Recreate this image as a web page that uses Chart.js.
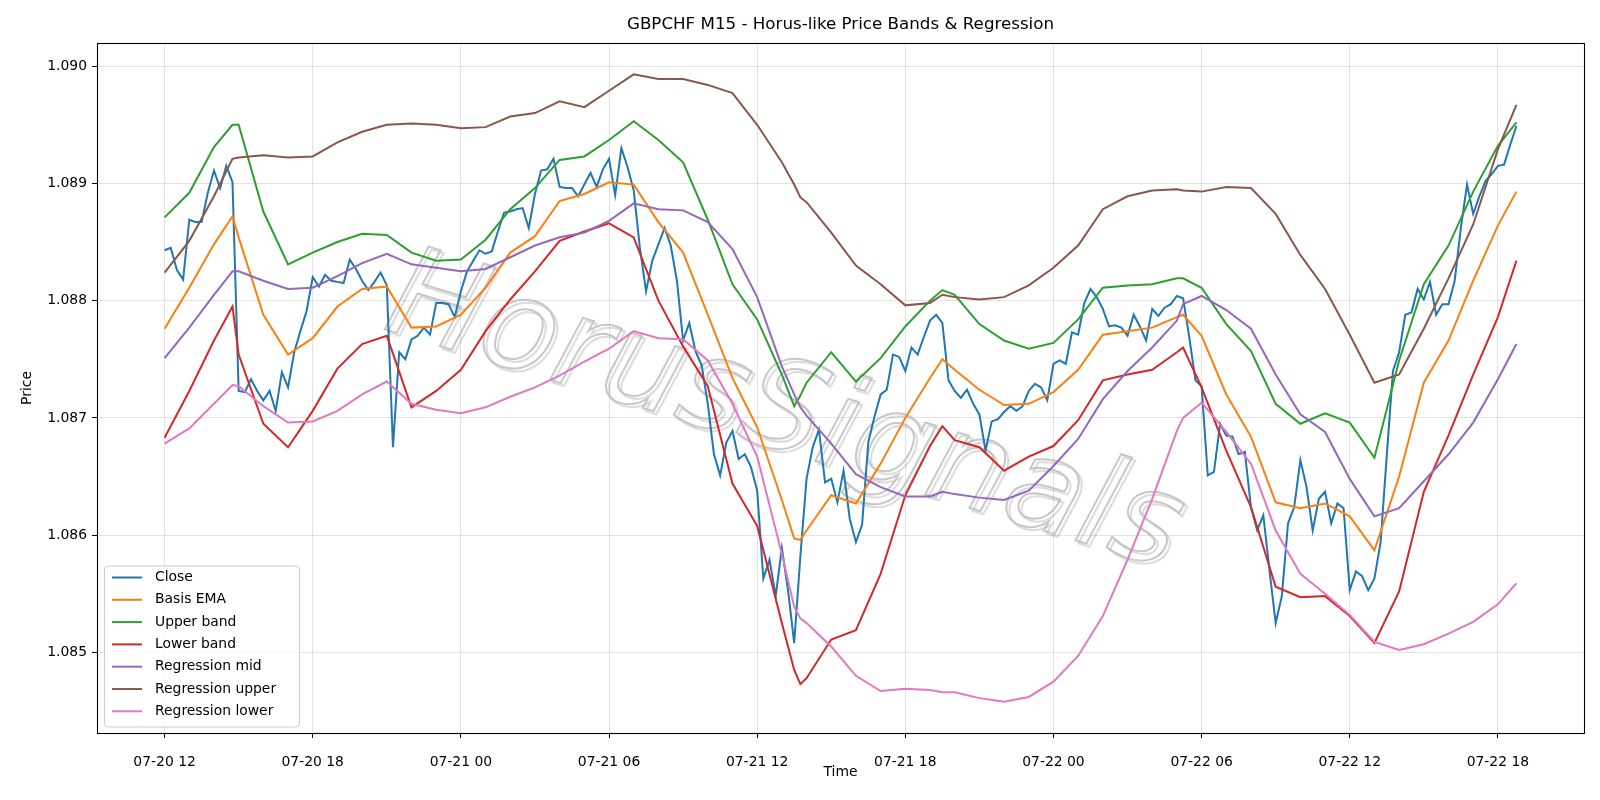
<!DOCTYPE html>
<html>
<head>
<meta charset="utf-8">
<script src="https://cdn.jsdelivr.net/npm/chart.js@4.4.1/dist/chart.umd.min.js"></script>
<style>
  html, body { margin: 0; padding: 0; background: #fff; }
  #wrap { width: 1600px; height: 800px; }
</style>
</head>
<body>
<div id="wrap"><canvas id="chart" width="1600" height="800"></canvas></div>
<script>
// x axis: hours since 07-20 12:00
const tickHours = [0, 6, 12, 18, 24, 30, 36, 42, 48, 54];
const tickLabels = ["07-20 12", "07-20 18", "07-21 00", "07-21 06", "07-21 12",
  "07-21 18", "07-22 00", "07-22 06", "07-22 12", "07-22 18"];
const priceTicks = [1.085, 1.086, 1.087, 1.088, 1.089, 1.090];

// M15 closes, one per bar
const closePrices = [
  1.08843, 1.08845, 1.08826, 1.08818, 1.08869, 1.08867, 1.08867, 1.08892, 1.08911, 1.08896,
  1.08915, 1.08901, 1.08723, 1.08722, 1.08733, 1.08723, 1.08715, 1.08723, 1.08706, 1.08739,
  1.08726, 1.08756, 1.08774, 1.08791, 1.08820, 1.08812, 1.08822, 1.08817, 1.08816, 1.08815,
  1.08835, 1.08827, 1.08817, 1.08809, 1.08816, 1.08824, 1.08813, 1.08675, 1.08756, 1.08750,
  1.08767, 1.08770, 1.08777, 1.08771, 1.08798, 1.08798, 1.08797, 1.08786, 1.08808, 1.08825,
  1.08834, 1.08843, 1.08840, 1.08842, 1.08859, 1.08875, 1.08876, 1.08878, 1.08879, 1.08862,
  1.08891, 1.08911, 1.08912, 1.08921, 1.08897, 1.08896, 1.08896, 1.08889, 1.08899, 1.08909,
  1.08897, 1.08912, 1.08921, 1.08890, 1.08930, 1.08914, 1.08894, 1.08845, 1.08808, 1.08834,
  1.08848, 1.08862, 1.08847, 1.08817, 1.08766, 1.08781, 1.08757, 1.08745, 1.08712, 1.08669,
  1.08651, 1.08679, 1.08689, 1.08665, 1.08669, 1.08658, 1.08638, 1.08563, 1.08579, 1.08548,
  1.08589, 1.08553, 1.08508, 1.08582, 1.08648, 1.08675, 1.08690, 1.08645, 1.08648, 1.08628,
  1.08655, 1.08614, 1.08594, 1.08609, 1.08679, 1.08701, 1.08720, 1.08724, 1.08754, 1.08752,
  1.08740, 1.08760, 1.08754, 1.08769, 1.08783, 1.08788, 1.08781, 1.08732, 1.08723, 1.08717,
  1.08724, 1.08712, 1.08703, 1.08672, 1.08697, 1.08699, 1.08705, 1.08710, 1.08706, 1.08710,
  1.08723, 1.08729, 1.08726, 1.08715, 1.08746, 1.08749, 1.08746, 1.08773, 1.08771, 1.08798,
  1.08810, 1.08803, 1.08793, 1.08778, 1.08779, 1.08777, 1.08770, 1.08788, 1.08778, 1.08766,
  1.08793, 1.08787, 1.08794, 1.08797, 1.08804, 1.08802, 1.08769, 1.08732, 1.08727, 1.08651,
  1.08654, 1.08695, 1.08685, 1.08684, 1.08669, 1.08671, 1.08624, 1.08604, 1.08617, 1.08570,
  1.08525, 1.08548, 1.08610, 1.08624, 1.08664, 1.08641, 1.08604, 1.08631, 1.08637, 1.08610,
  1.08627, 1.08623, 1.08553, 1.08569, 1.08565, 1.08553, 1.08563, 1.08594, 1.08668, 1.08740,
  1.08756, 1.08788, 1.08790, 1.08810, 1.08801, 1.08816, 1.08788, 1.08797, 1.08797, 1.08817,
  1.08862, 1.08899, 1.08874, 1.08889, 1.08902, 1.08908, 1.08915, 1.08916, 1.08933, 1.08949
];

// band / regression lines, sampled at these hours
const bandHours = [0, 1, 2, 2.75, 3, 4, 5, 6, 7, 8, 9, 10, 11, 12, 13, 14, 15, 16, 17, 18,
  19, 20, 21, 22, 23, 24, 25, 25.5, 25.75, 26, 27, 28, 29, 30, 31, 31.5, 32, 33, 34, 35,
  36, 37, 38, 39, 40, 41, 41.25, 42, 43, 44, 45, 46, 47, 48, 49, 50, 51, 52, 53, 54, 54.75];

const basisEma = [1.08776, 1.08811, 1.08848, 1.08872, 1.08854, 1.08788, 1.08754, 1.08768, 1.08795, 1.08810,
  1.08812, 1.08777, 1.08778, 1.08788, 1.08811, 1.08841, 1.08855, 1.08885, 1.08891, 1.08901,
  1.08899, 1.08867, 1.08841, 1.08788, 1.08734, 1.08692, 1.08630, 1.08597, 1.08596, 1.08604,
  1.08634, 1.08627, 1.08661, 1.08700, 1.08734, 1.08750, 1.08741, 1.08724, 1.08711, 1.08712,
  1.08722, 1.08741, 1.08771, 1.08774, 1.08777, 1.08786, 1.08788, 1.08770, 1.08720, 1.08684,
  1.08628, 1.08623, 1.08627, 1.08616, 1.08587, 1.08650, 1.08730, 1.08766, 1.08817, 1.08864, 1.08893];

const upperBand = [1.08871, 1.08892, 1.08931, 1.08950, 1.08950, 1.08876, 1.08831, 1.08841, 1.08850, 1.08857,
  1.08856, 1.08841, 1.08834, 1.08835, 1.08852, 1.08878, 1.08896, 1.08920, 1.08923, 1.08937,
  1.08953, 1.08937, 1.08918, 1.08869, 1.08814, 1.08784, 1.08737, 1.08710, 1.08719, 1.08730,
  1.08756, 1.08731, 1.08751, 1.08778, 1.08800, 1.08809, 1.08805, 1.08780, 1.08766, 1.08759,
  1.08764, 1.08784, 1.08811, 1.08813, 1.08814, 1.08819, 1.08819, 1.08811, 1.08780, 1.08757,
  1.08712, 1.08695, 1.08704, 1.08696, 1.08666, 1.08749, 1.08814, 1.08847, 1.08893, 1.08932, 1.08952];

const lowerBand = [1.08683, 1.08723, 1.08766, 1.08795, 1.08754, 1.08695, 1.08675, 1.08706, 1.08742, 1.08763,
  1.08770, 1.08709, 1.08723, 1.08741, 1.08774, 1.08801, 1.08825, 1.08851, 1.08859, 1.08866,
  1.08854, 1.08800, 1.08761, 1.08727, 1.08644, 1.08608, 1.08525, 1.08485, 1.08473, 1.08478,
  1.08511, 1.08519, 1.08567, 1.08634, 1.08676, 1.08693, 1.08681, 1.08675, 1.08655, 1.08667,
  1.08676, 1.08698, 1.08732, 1.08737, 1.08741, 1.08756, 1.08760, 1.08726, 1.08672, 1.08624,
  1.08556, 1.08547, 1.08548, 1.08531, 1.08508, 1.08552, 1.08637, 1.08685, 1.08737, 1.08786, 1.08834];

const regMid = [1.08751, 1.08777, 1.08805, 1.08825, 1.08825, 1.08817, 1.08810, 1.08811, 1.08821, 1.08832,
  1.08840, 1.08831, 1.08828, 1.08825, 1.08827, 1.08837, 1.08847, 1.08854, 1.08858, 1.08868,
  1.08883, 1.08878, 1.08877, 1.08867, 1.08844, 1.08803, 1.08744, 1.08720, 1.08709, 1.08702,
  1.08678, 1.08652, 1.08641, 1.08633, 1.08633, 1.08637, 1.08635, 1.08632, 1.08630, 1.08638,
  1.08659, 1.08682, 1.08716, 1.08740, 1.08760, 1.08783, 1.08797, 1.08804, 1.08792, 1.08776,
  1.08737, 1.08703, 1.08688, 1.08648, 1.08616, 1.08623, 1.08646, 1.08669, 1.08696, 1.08733, 1.08763];

const regUpper = [1.08824, 1.08851, 1.08889, 1.08921, 1.08922, 1.08924, 1.08922, 1.08923, 1.08935, 1.08944,
  1.08950, 1.08951, 1.08950, 1.08947, 1.08948, 1.08957, 1.08960, 1.08970, 1.08965, 1.08979,
  1.08993, 1.08989, 1.08989, 1.08984, 1.08977, 1.08950, 1.08918, 1.08899, 1.08888, 1.08884,
  1.08858, 1.08830, 1.08814, 1.08796, 1.08798, 1.08805, 1.08803, 1.08801, 1.08803, 1.08813,
  1.08828, 1.08847, 1.08878, 1.08889, 1.08894, 1.08895, 1.08894, 1.08893, 1.08897, 1.08896,
  1.08874, 1.08839, 1.08810, 1.08771, 1.08730, 1.08737, 1.08776, 1.08819, 1.08865, 1.08929, 1.08967];

const regLower = [1.08678, 1.08691, 1.08712, 1.08728, 1.08727, 1.08710, 1.08696, 1.08697, 1.08706, 1.08720,
  1.08731, 1.08712, 1.08707, 1.08704, 1.08709, 1.08718, 1.08726, 1.08736, 1.08748, 1.08759,
  1.08774, 1.08768, 1.08767, 1.08749, 1.08712, 1.08667, 1.08584, 1.08539, 1.08529, 1.08525,
  1.08505, 1.08480, 1.08467, 1.08469, 1.08468, 1.08466, 1.08466, 1.08461, 1.08458, 1.08462,
  1.08475, 1.08497, 1.08531, 1.08579, 1.08631, 1.08689, 1.08700, 1.08713, 1.08688, 1.08661,
  1.08604, 1.08567, 1.08550, 1.08532, 1.08509, 1.08502, 1.08507, 1.08516, 1.08526, 1.08541, 1.08559];

const closeHours = closePrices.map((_, i) => i * 0.25);

const lines = [
  { label: "Close", color: "#1f77b4", xs: closeHours, ys: closePrices },
  { label: "Basis EMA", color: "#ff7f0e", xs: bandHours, ys: basisEma },
  { label: "Upper band", color: "#2ca02c", xs: bandHours, ys: upperBand },
  { label: "Lower band", color: "#d62728", xs: bandHours, ys: lowerBand },
  { label: "Regression mid", color: "#9467bd", xs: bandHours, ys: regMid },
  { label: "Regression upper", color: "#8c564b", xs: bandHours, ys: regUpper },
  { label: "Regression lower", color: "#e377c2", xs: bandHours, ys: regLower }
];

const FONT = "'DejaVu Sans', sans-serif";

// matplotlib-like 5% margins
function padded(lo, hi) {
  const m = (hi - lo) * 0.05;
  return [lo - m, hi + m];
}
const allY = lines.flatMap(l => l.ys);
const [xMin, xMax] = padded(0, closeHours[closeHours.length - 1]);
const [yMin, yMax] = padded(Math.min(...allY), Math.max(...allY));

// title, axis labels, watermark, frame, legend
const decorations = {
  id: "decorations",
  beforeDatasetsDraw(chart) {
    const c = chart.ctx;
    c.save();
    c.translate(784, 417);
    c.rotate(17 * Math.PI / 180);
    c.font = "italic 126px " + FONT;
    c.textAlign = "center";
    c.textBaseline = "middle";
    c.shadowColor = "rgba(0,0,0,0.18)";
    c.shadowOffsetX = 3;
    c.shadowOffsetY = 3;
    c.shadowBlur = 1;
    c.lineWidth = 2;
    c.strokeStyle = "rgba(190,190,190,0.85)";
    c.strokeText("HorusSignals", 0, 0);
    c.restore();
  },
  afterDatasetsDraw(chart) {
    const c = chart.ctx;
    const a = chart.chartArea;
    c.save();
    c.strokeStyle = "#000";
    c.lineWidth = 1.1;
    c.strokeRect(Math.round(a.left) + 0.5, Math.round(a.top) + 0.5,
      Math.round(a.right - a.left), Math.round(a.bottom - a.top));
    c.restore();
  },
  afterDraw(chart) {
    const c = chart.ctx;
    const a = chart.chartArea;
    c.save();
    c.fillStyle = "#000";
    c.textAlign = "center";
    c.textBaseline = "middle";
    c.font = "16.7px " + FONT;
    c.fillText("GBPCHF M15 - Horus-like Price Bands & Regression", (a.left + a.right) / 2, 25);
    c.font = "13.9px " + FONT;
    c.fillText("Time", (a.left + a.right) / 2, 772);
    c.save();
    c.translate(27, (a.top + a.bottom) / 2);
    c.rotate(-Math.PI / 2);
    c.fillText("Price", 0, 0);
    c.restore();

    // legend, lower left
    const bx = a.left + 7, by = 565.5, bw = 195, bh = 161;
    c.beginPath();
    c.roundRect(bx + 0.5, by + 0.5, bw, bh, 4);
    c.fillStyle = "rgba(255,255,255,0.8)";
    c.fill();
    c.strokeStyle = "#cccccc";
    c.lineWidth = 1;
    c.stroke();
    c.textAlign = "left";
    lines.forEach((l, i) => {
      const y = 577.5 + i * 22.3;
      c.beginPath();
      c.moveTo(bx + 8, y);
      c.lineTo(bx + 38, y);
      c.strokeStyle = l.color;
      c.lineWidth = 2;
      c.stroke();
      c.fillStyle = "#000";
      c.fillText(l.label, bx + 51, y);
    });
    c.restore();
  }
};

new Chart(document.getElementById("chart"), {
  type: "line",
  data: {
    datasets: lines.map((l, i) => ({
      label: l.label,
      data: l.xs.map((x, j) => ({ x: x, y: l.ys[j] })),
      borderColor: l.color,
      backgroundColor: l.color,
      borderWidth: 2,
      pointRadius: 0,
      tension: 0,
      fill: false,
      order: lines.length - i
    }))
  },
  options: {
    responsive: false,
    devicePixelRatio: 1,
    animation: false,
    layout: { padding: { top: 43, right: 16, left: 0, bottom: 0 } },
    plugins: {
      legend: { display: false },
      title: { display: false },
      tooltip: { enabled: false }
    },
    scales: {
      x: {
        type: "linear",
        min: xMin,
        max: xMax,
        afterBuildTicks: s => { s.ticks = tickHours.map(v => ({ value: v })); },
        afterFit: s => { s.height = 67; },
        ticks: {
          autoSkip: false,
          maxRotation: 0,
          padding: 16,
          color: "#000",
          font: { family: FONT, size: 13.9 },
          callback: v => tickLabels[tickHours.indexOf(v)]
        },
        grid: { color: "rgba(176,176,176,0.35)", tickColor: "#000", tickLength: 5, lineWidth: 1 },
        border: { display: false }
      },
      y: {
        min: yMin,
        max: yMax,
        afterBuildTicks: s => { s.ticks = priceTicks.map(v => ({ value: v })); },
        afterFit: s => { s.width = 97; },
        ticks: {
          padding: 5,
          color: "#000",
          font: { family: FONT, size: 13.9 },
          callback: v => v.toFixed(3)
        },
        grid: { color: "rgba(176,176,176,0.35)", tickColor: "#000", tickLength: 5, lineWidth: 1 },
        border: { display: false }
      }
    }
  },
  plugins: [decorations]
});
</script>
</body>
</html>
